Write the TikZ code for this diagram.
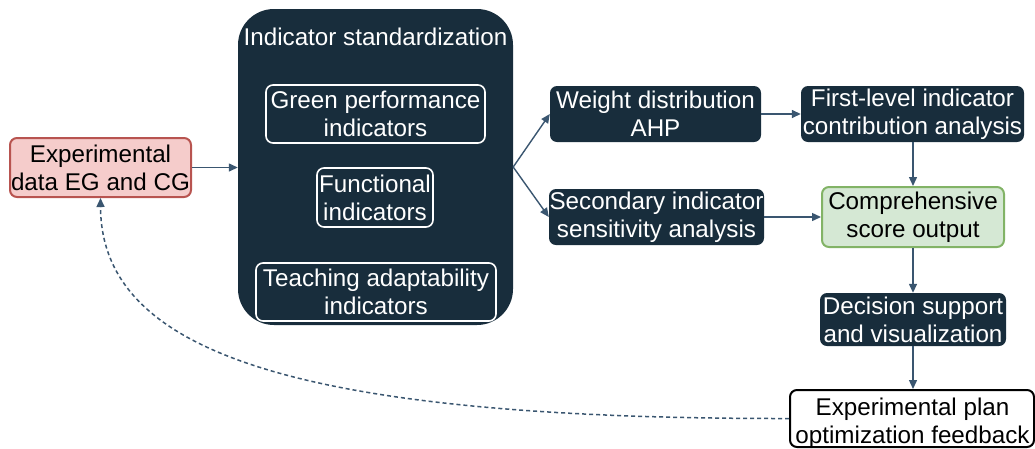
\documentclass[tikz,border=0pt]{standalone}
\usepackage{fontspec}
\setmainfont{Liberation Sans}
\usetikzlibrary{arrows.meta}
\definecolor{navy}{HTML}{182D3C}
\definecolor{linkc}{HTML}{3A5670}
\definecolor{pinkfill}{HTML}{F5CCCB}
\definecolor{pinkline}{HTML}{B85450}
\definecolor{greenfill}{HTML}{D5E8D4}
\definecolor{greenline}{HTML}{82B366}
\begin{document}
\begin{tikzpicture}[x=1pt,y=-1pt,
  box/.style={rectangle, rounded corners=7pt, inner sep=0pt, align=center,
    font=\fontsize{24.2}{28}\selectfont},
  darkbox/.style={box, fill=navy, text=white},
  innerbox/.style={box, draw=white, line width=1.6pt, text=white},
  link/.style={draw=linkc, line width=1.4pt, -{Triangle[length=9pt,width=8pt]}},
  feedback/.style={draw=linkc, line width=1.5pt, dash pattern=on 4pt off 3pt,
    -{Triangle[length=9pt,width=8pt]}}]
\useasboundingbox (0,0) rectangle (1035,448);

% input data
\node[box, fill=pinkfill, draw=pinkline, line width=2pt,
  minimum width=181pt, minimum height=59pt] (exp) at (100.5,167.5)
  {Experimental\\data EG and CG};

% standardization block with its three indicator groups
\node[box, fill=navy, rounded corners=36pt,
  minimum width=275pt, minimum height=316pt] (std) at (375.5,167) {};
\node[text=white, inner sep=0pt, font=\fontsize{24.2}{28}\selectfont]
  (stdtitle) at (375.5,37) {Indicator standardization};
\node[innerbox, minimum width=219pt, minimum height=58pt] (green) at (375.5,114)
  {Green performance\\indicators};
\node[innerbox, minimum width=116pt, minimum height=59pt] (func) at (375,197.5)
  {Functional\\indicators};
\node[innerbox, minimum width=240pt, minimum height=58pt] (teach) at (376,292)
  {Teaching adaptability\\indicators};

% analysis steps
\node[darkbox, minimum width=211pt, minimum height=56pt] (weight) at (655.5,114)
  {Weight distribution\\AHP};
\node[darkbox, minimum width=223pt, minimum height=56pt] (first) at (912.5,114)
  {First-level indicator\\contribution analysis};
\node[darkbox, minimum width=215pt, minimum height=56pt] (second) at (656.5,217)
  {Secondary indicator\\sensitivity analysis};
\node[box, fill=greenfill, draw=greenline, line width=2pt,
  minimum width=182pt, minimum height=60pt] (comp) at (913,217)
  {Comprehensive\\score output};
\node[darkbox, minimum width=186pt, minimum height=53pt] (dec) at (913,319.5)
  {Decision support\\and visualization};

% feedback box; its text sits low and runs onto the bottom border
\node[box, fill=white, draw=black, line width=2pt,
  minimum width=244pt, minimum height=57pt] (plan) at (912,418.5) {};
\node[box, text=black] (plantext) at (912.5,423)
  {Experimental plan\\optimization feedback};

% connectors
\draw[link] (exp.east) -- (std.west |- exp.east);
\draw[link] (std.east) -- (weight.west);
\draw[link] (std.east) -- (second.west);
\draw[link] (weight.east) -- (first.west);
\draw[link] (first.south -| comp.north) -- (comp.north);
\draw[link] (second.east) -- (comp.west);
\draw[link] (comp.south) -- (dec.north);
\draw[link] (dec.south) -- (plan.north -| dec.south);
\draw[feedback] (plan.west) .. controls (288,419) and (101,350) .. (exp.south);
\end{tikzpicture}
\end{document}
